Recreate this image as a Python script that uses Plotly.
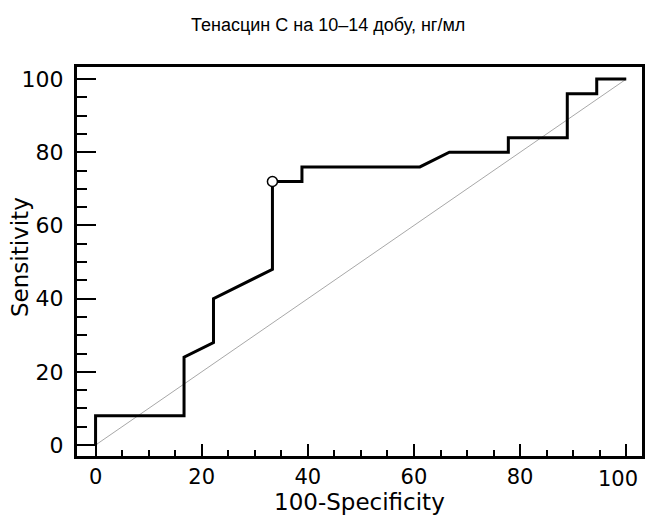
import plotly.graph_objects as go

# ROC curve points (100-Specificity, Sensitivity)
fpr = [0, 0, 16.67, 16.67, 22.22, 22.22, 33.33, 33.33, 38.89, 38.89, 61.11, 66.67, 77.78, 77.78, 88.89, 88.89, 94.44, 94.44, 100]
tpr = [0, 8, 8, 24, 28, 40, 48, 72, 72, 76, 76, 80, 80, 84, 84, 96, 96, 100, 100]
cut_x = [33.33]
cut_y = [72]
diag_x = [0, 100]
diag_y = [0, 100]
ticks = [0, 20, 40, 60, 80, 100]
x_title = "100-Specificity"
y_title = "Sensitivity"
chart_title = "Тенасцин С на 10–14 добу, нг/мл"

fig = go.Figure()
fig.add_trace(go.Scatter(x=diag_x, y=diag_y, mode="lines",
                         line=dict(color="#a8a8a8", width=1), hoverinfo="skip"))
fig.add_trace(go.Scatter(x=fpr, y=tpr, mode="lines",
                         line=dict(color="black", width=3)))
fig.add_trace(go.Scatter(x=cut_x, y=cut_y, mode="markers",
                         marker=dict(symbol="circle", size=10, color="white",
                                     line=dict(color="black", width=1.5))))

font = "DejaVu Sans, Arial, sans-serif"
xtext = [str(t) for t in ticks[:-1]] + [""]
fig.update_layout(
    width=646, height=517,
    margin=dict(l=77, r=4, t=67, b=61, autoexpand=False),
    paper_bgcolor="white", plot_bgcolor="white",
    showlegend=False,
    title=dict(text=chart_title, x=0.508, xanchor="center",
               y=1 - 25/517, yanchor="middle", yref="container",
               font=dict(family="Liberation Sans, Arial, sans-serif", size=18, color="black")),
    font=dict(family=font, color="black"),
)
fig.update_xaxes(range=[-3.5, 102.97], tickvals=ticks, ticktext=xtext,
                 automargin=False,
                 showgrid=False, zeroline=False, showline=True, linecolor="black",
                 linewidth=3, mirror=True, ticks="inside", ticklen=12, tickwidth=2,
                 tickcolor="black", tickfont=dict(size=21, family=font),
                 ticklabelstandoff=0,
                 minor=dict(dtick=5, tick0=0, ticks="inside", ticklen=6, tickwidth=2, tickcolor="black", showgrid=False))
fig.update_yaxes(range=[-3.0, 103.3], tickvals=ticks, ticktext=[str(t) for t in ticks],
                 automargin=False,
                 showgrid=False, zeroline=False, showline=True, linecolor="black",
                 linewidth=3, mirror=True, ticks="inside", ticklen=19, tickwidth=2,
                 tickcolor="black", tickfont=dict(size=22, family=font),
                 ticklabelstandoff=6,
                 minor=dict(dtick=5, tick0=0, ticks="inside", ticklen=10, tickwidth=2, tickcolor="black", showgrid=False))

# last x tick label, nudged left to stay inside the figure as in the reference
fig.add_annotation(x=ticks[-1], xref="x", y=0, yref="paper", text=str(ticks[-1]),
                   showarrow=False, xanchor="center", yanchor="top", xshift=-8, yshift=-9,
                   font=dict(size=21, family=font, color="black"))
fig.add_annotation(x=0.5, xref="paper", y=-61/389, yref="paper", text=x_title,
                   showarrow=False, xanchor="center", yanchor="bottom",
                   font=dict(size=23, family=font, color="black"))
fig.add_annotation(x=(20-77)/565, xref="paper", y=(456-257)/389, yref="paper", text=y_title,
                   showarrow=False, xanchor="center", yanchor="middle", textangle=-90,
                   font=dict(size=23, family=font, color="black"))

fig.write_html("out.html", config={"displayModeBar": False},
               post_script="document.body.style.margin='0';document.body.style.overflow='hidden';")
